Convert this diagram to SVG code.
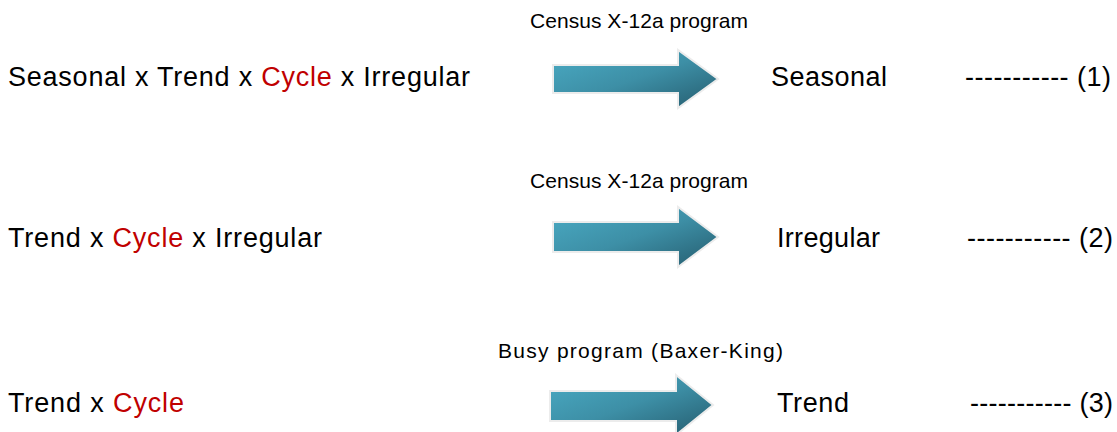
<svg xmlns="http://www.w3.org/2000/svg" width="1117" height="432" viewBox="0 0 1117 432">
<defs>
<linearGradient id="ag" x1="0" y1="0" x2="1" y2="1">
<stop offset="0" stop-color="#4aabc4"/>
<stop offset="0.5" stop-color="#3d8fa6"/>
<stop offset="1" stop-color="#255c6e"/>
</linearGradient>
<style>
text{font-family:"Liberation Sans",Arial,sans-serif;fill:#000}
.big{font-size:27px}
.small{font-size:21px}
.red{fill:#c00000}
.arr{fill:url(#ag);stroke:#ececec;stroke-width:2}
</style>
</defs>
<rect width="1117" height="432" fill="#fff"/>
<g id="connectors">
<path class="arr" d="M553 65 H678 V50 L718 79 L678 108 V93 H553 Z"/>
<path class="arr" d="M553 222 H678 V207 L718 237 L678 267 V252 H553 Z"/>
<path class="arr" d="M550 391 H676 V375 L713 405 L676 435 V421 H550 Z"/>
</g>
<g id="row1">
<text class="big" x="8" y="86" textLength="462" lengthAdjust="spacing">Seasonal x Trend x <tspan class="red">Cycle</tspan> x Irregular</text>
<text class="small" x="530" y="28" textLength="218" lengthAdjust="spacing">Census X-12a program</text>
<text class="big" x="771" y="86" textLength="116" lengthAdjust="spacing">Seasonal</text>
<text class="big" x="965" y="86" textLength="146" lengthAdjust="spacing">----------- (1)</text>
</g>
<g id="row2">
<text class="big" x="8" y="247" textLength="314" lengthAdjust="spacing">Trend x <tspan class="red">Cycle</tspan> x Irregular</text>
<text class="small" x="530" y="188" textLength="218" lengthAdjust="spacing">Census X-12a program</text>
<text class="big" x="777" y="247" textLength="103" lengthAdjust="spacing">Irregular</text>
<text class="big" x="967" y="247" textLength="146" lengthAdjust="spacing">----------- (2)</text>
</g>
<g id="row3">
<text class="big" x="8" y="412" textLength="176" lengthAdjust="spacing">Trend x <tspan class="red">Cycle</tspan></text>
<text class="small" x="498" y="358" textLength="285" lengthAdjust="spacing">Busy program (Baxer-King)</text>
<text class="big" x="777" y="412" textLength="72" lengthAdjust="spacing">Trend</text>
<text class="big" x="970" y="412" textLength="143" lengthAdjust="spacing">----------- (3)</text>
</g>
</svg>
